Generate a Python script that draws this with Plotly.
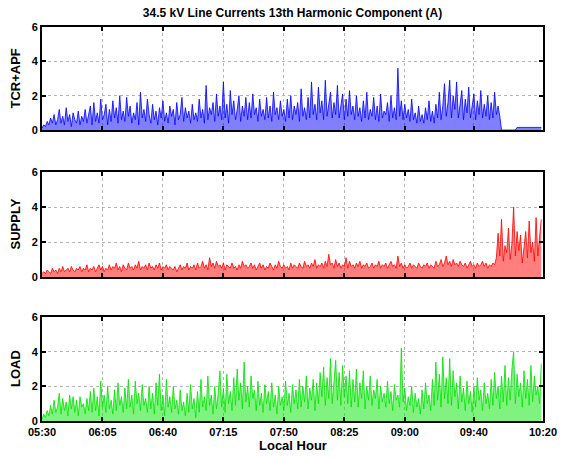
import plotly.graph_objects as go

# Time axis: minutes after 05:30, 1-minute samples (05:30 .. 10:19)
minutes = list(range(290))
tick_minutes = [0, 35, 70, 105, 140, 175, 210, 250, 290]
tick_labels = ["05:30", "06:05", "06:40", "07:15", "07:50", "08:25", "09:00", "09:40", "10:20"]

tcr_apf = [
    0.1,0.3,0.2,0.5,0.3,0.7,0.4,0.9,0.3,0.6,
    1.2,0.4,0.8,0.3,1.3,0.5,0.9,0.2,1.0,0.6,
    0.4,1.1,0.3,0.8,0.5,1.2,0.4,0.9,1.4,0.3,
    1.6,0.5,1.0,0.4,1.8,0.6,0.9,1.5,0.3,1.2,
    0.5,1.7,0.7,1.3,0.4,2.0,0.6,1.1,0.5,1.9,
    0.8,1.4,0.4,1.0,0.6,1.6,0.3,2.2,0.7,1.2,
    0.5,1.8,0.9,0.4,1.5,0.6,1.1,0.3,1.3,0.7,
    1.7,0.5,1.0,0.4,1.4,0.8,1.2,0.3,1.6,0.6,
    0.9,1.9,0.5,1.3,0.7,1.1,0.4,1.5,0.6,1.0,
    0.5,1.8,0.7,1.2,0.4,2.6,0.6,1.3,0.9,1.6,
    0.5,2.1,0.8,1.4,0.6,2.8,0.7,1.5,0.4,2.3,
    0.9,1.7,0.6,1.2,2.0,0.5,1.4,0.8,1.9,0.6,
    1.6,0.7,2.1,0.9,1.3,0.5,1.8,0.8,1.2,0.6,
    1.9,0.7,1.4,0.5,2.2,0.9,1.3,0.6,1.7,0.8,
    1.2,0.5,1.8,0.7,2.0,0.6,1.4,0.9,1.6,0.5,
    2.4,0.8,1.3,0.6,1.9,0.7,2.8,0.9,1.5,0.6,
    2.5,1.0,1.7,0.6,2.9,0.8,1.4,2.2,0.7,1.6,
    0.9,2.6,0.7,1.5,2.1,0.6,1.8,0.8,2.3,0.9,
    1.4,0.6,2.0,0.8,1.3,0.5,1.7,0.7,2.2,0.6,
    1.2,0.8,1.9,0.6,1.4,0.5,2.1,0.7,1.1,0.9,
    1.6,0.5,2.0,0.7,1.3,0.6,3.6,0.8,1.7,0.6,
    1.5,0.7,1.2,0.5,1.8,0.6,1.0,0.4,1.4,0.5,
    0.9,0.4,1.3,0.6,1.7,0.5,1.1,0.4,1.5,0.7,
    2.2,0.6,1.4,2.7,0.8,1.6,2.9,0.7,2.0,1.2,
    2.8,0.7,1.5,2.3,0.6,1.8,1.0,2.5,0.7,1.4,
    2.1,0.6,1.7,0.9,2.3,0.7,1.5,0.8,2.0,0.6,
    1.6,0.7,2.2,0.9,1.4,0.8,0.0,0.0,0.0,0.0,
    0.0,0.0,0.0,0.0,0.0,0.15,0.15,0.15,0.15,0.15,
    0.15,0.15,0.15,0.15,0.15,0.15,0.15,0.15,0.15,0.15,
]

supply = [
    0.2,0.3,0.2,0.4,0.3,0.2,0.5,0.3,0.4,0.2,
    0.5,0.3,0.6,0.3,0.4,0.5,0.3,0.6,0.4,0.3,
    0.5,0.4,0.6,0.3,0.5,0.4,0.7,0.3,0.5,0.4,
    0.6,0.3,0.5,0.7,0.4,0.6,0.3,0.5,0.4,0.7,
    0.4,0.6,0.5,0.8,0.4,0.6,0.3,0.7,0.5,0.4,
    0.8,0.5,0.6,0.4,0.7,0.5,0.9,0.4,0.6,0.5,
    0.7,0.4,0.8,0.5,0.6,0.4,0.7,0.5,0.8,0.4,
    0.6,0.5,0.7,0.4,0.6,0.5,0.4,0.6,0.3,0.5,
    0.7,0.4,0.6,0.5,0.8,0.4,0.6,0.5,0.7,0.4,
    0.8,0.5,0.6,0.9,0.5,0.7,0.4,1.1,0.6,0.8,
    0.5,0.9,0.6,0.7,0.5,0.8,0.4,0.7,0.6,0.5,
    0.8,0.5,0.6,0.4,0.7,0.5,0.9,0.6,0.7,0.5,
    0.6,0.8,0.5,0.7,0.4,0.6,0.8,0.5,0.7,0.4,
    0.6,0.5,0.8,0.6,0.4,0.7,0.5,0.9,0.6,0.5,
    0.7,0.5,0.6,0.4,0.8,0.5,0.7,0.6,0.5,0.8,
    0.6,0.5,0.9,0.6,0.7,0.5,0.8,0.6,1.0,0.5,
    0.7,0.6,0.8,0.5,0.9,0.6,1.3,0.7,0.8,0.5,
    1.0,0.6,0.8,0.5,0.7,0.6,1.1,0.5,0.9,0.6,
    0.7,0.5,0.8,0.6,0.9,0.5,0.7,0.6,0.8,0.5,
    0.6,0.8,0.5,0.7,0.6,0.9,0.5,0.7,0.6,0.8,
    0.5,0.7,0.9,0.6,0.7,0.5,1.2,0.6,0.8,0.5,
    0.7,0.5,0.6,0.8,0.5,0.7,0.6,0.5,0.8,0.6,
    0.5,0.7,0.6,0.8,0.5,0.7,0.6,0.5,0.9,0.6,
    0.7,1.0,0.6,0.8,1.2,0.7,0.9,0.6,1.0,0.7,
    0.8,0.6,0.9,0.7,0.6,0.8,0.5,0.7,0.9,0.6,
    0.7,0.5,0.8,0.6,0.7,0.9,0.6,0.8,0.5,0.7,
    0.6,0.8,0.7,1.1,2.5,1.2,3.3,0.9,1.8,1.4,
    2.8,1.0,1.9,4.0,1.2,2.6,1.5,2.4,0.8,1.7,
    2.6,1.1,3.2,1.4,2.0,0.9,3.4,1.2,2.1,3.3,
]

load = [
    0.1,0.4,0.2,0.6,0.3,0.9,0.4,1.2,0.5,0.8,
    1.6,0.4,1.3,0.6,1.1,0.3,1.5,0.7,1.4,0.5,
    1.2,0.3,1.4,0.8,1.0,0.4,1.3,0.6,1.7,0.5,
    1.9,0.6,1.4,0.3,2.3,0.8,1.5,0.5,2.0,0.7,
    1.2,0.4,1.8,0.6,2.2,0.9,1.4,0.5,1.9,0.7,
    2.4,0.8,1.5,0.4,2.3,1.0,1.6,0.6,2.1,0.9,
    1.3,0.5,2.0,0.7,1.6,0.4,2.2,0.9,2.7,0.6,
    1.5,0.3,2.4,0.8,1.4,0.5,2.0,0.7,1.2,0.4,
    1.8,0.6,1.1,0.3,1.6,0.5,2.1,0.7,1.3,0.2,
    1.7,0.5,2.4,0.8,1.4,0.6,2.6,0.9,1.5,0.4,
    2.0,0.7,1.6,2.9,0.8,1.9,0.5,2.7,1.0,1.7,
    0.6,2.5,0.9,3.0,1.2,2.2,0.7,3.4,1.1,2.0,
    0.8,2.6,1.3,1.8,0.6,2.3,0.9,1.6,0.5,2.1,
    1.0,1.7,0.6,2.2,0.8,1.5,0.4,2.0,0.9,1.4,
    0.6,2.3,0.9,1.6,0.5,2.1,1.0,1.8,0.7,2.4,
    0.8,2.0,1.1,2.6,0.7,1.9,1.2,2.4,0.6,2.2,
    1.0,2.8,1.4,3.1,0.9,2.5,1.3,3.6,1.0,2.3,
    3.5,1.2,2.8,0.9,3.2,1.4,2.6,1.0,2.9,0.8,
    2.4,1.1,3.0,0.8,2.2,1.3,2.9,0.7,2.0,1.2,
    2.6,0.9,1.8,1.3,2.4,0.7,2.0,1.1,1.6,0.8,
    2.3,1.0,1.7,0.6,2.1,1.2,1.5,0.8,4.2,1.1,
    1.9,0.6,1.4,0.9,2.0,0.5,1.6,0.8,1.3,0.4,
    1.8,0.7,2.2,1.0,1.5,0.6,2.4,0.9,3.4,1.2,
    2.7,0.8,3.7,1.3,2.5,1.0,3.6,0.9,2.9,1.4,
    2.2,0.7,2.6,1.1,1.9,0.6,2.3,1.0,1.7,0.5,
    2.0,0.8,2.5,1.2,1.8,0.6,2.2,1.0,1.6,0.7,
    2.4,0.9,2.8,1.3,2.0,0.7,2.6,1.1,3.2,0.9,
    2.5,1.2,3.0,4.0,1.0,2.7,1.4,2.2,0.8,2.9,
    1.3,2.4,0.9,3.2,1.1,2.6,1.5,2.0,1.0,3.3,
]

series = [
    ("TCR+APF", tcr_apf, "#0000ff", "rgba(0,0,255,0.5)"),
    ("SUPPLY", supply, "#ff0000", "rgba(255,0,0,0.5)"),
    ("LOAD", load, "#00e000", "rgba(0,230,0,0.5)"),
]

FONT = "Liberation Sans, Arial, sans-serif"
W, H = 564, 457
plot_left, plot_right = 42, 543
plot_top, plot_bottom = 27, 421
total = plot_bottom - plot_top
pw = plot_right - plot_left
panels = [(27, 130), (172, 277), (317, 421)]


def px_x(p):
    return (p - plot_left) / pw


def px_y(p):
    return (plot_bottom - p) / total


fig = go.Figure()
annotations = []
layout = dict(
    width=W, height=H,
    margin=dict(l=plot_left, r=W - plot_right, t=plot_top, b=H - plot_bottom, autoexpand=False),
    paper_bgcolor="white", plot_bgcolor="white",
    showlegend=False,
    font=dict(family=FONT, size=11, color="black", weight="bold"),
    title=dict(text="34.5 kV Line Currents 13th Harmonic Component (A)",
               x=0.5, xref="paper", xanchor="center",
               y=1 - 13 / H, yanchor="middle",
               font=dict(family=FONT, size=12, color="black", weight="bold")),
)

for i, ((name, vals, col, fcol), (top, bot)) in enumerate(zip(series, panels)):
    n = "" if i == 0 else str(i + 1)
    fig.add_trace(go.Scatter(
        x=minutes, y=vals, mode="lines",
        line=dict(color=col, width=0.8),
        fill="tozeroy", fillcolor=fcol,
        xaxis="x" + n, yaxis="y" + n, hoverinfo="skip",
    ))
    last = i == 2
    layout["xaxis" + n] = dict(
        domain=[0, 1], anchor="y" + n, range=[0, 290], automargin=False,
        tickvals=tick_minutes, ticktext=tick_labels,
        showticklabels=last,
        ticks="inside", ticklen=4, tickwidth=1.5, tickcolor="black",
        showline=True, linecolor="black", linewidth=2, mirror="ticks",
        showgrid=True, gridcolor="#b4b4b4", griddash="dot", gridwidth=1,
        zeroline=False,
        tickfont=dict(family=FONT, size=11, color="black", weight="bold"),
    )
    layout["yaxis" + n] = dict(
        domain=[px_y(bot), px_y(top)], anchor="x" + n, range=[0, 6], automargin=False,
        tickvals=[0, 2, 4, 6],
        ticks="inside", ticklen=4, tickwidth=1.5, tickcolor="black",
        showline=True, linecolor="black", linewidth=2, mirror="ticks",
        showgrid=True, gridcolor="#b4b4b4", griddash="dot", gridwidth=1,
        zeroline=False,
        tickfont=dict(family=FONT, size=11, color="black", weight="bold"),
    )
    annotations.append(dict(
        text=name, xref="paper", yref="paper", x=px_x(15), y=px_y((top + bot) / 2),
        xanchor="center", yanchor="middle", textangle=-90, showarrow=False,
        font=dict(family=FONT, size=13, color="black", weight="bold"),
    ))

annotations.append(dict(
    text="Local Hour", xref="paper", yref="paper", x=0.5, y=px_y(445),
    xanchor="center", yanchor="middle", showarrow=False,
    font=dict(family=FONT, size=13, color="black", weight="bold"),
))
layout["annotations"] = annotations

fig.update_layout(**layout)
fig.write_html("out.html")
